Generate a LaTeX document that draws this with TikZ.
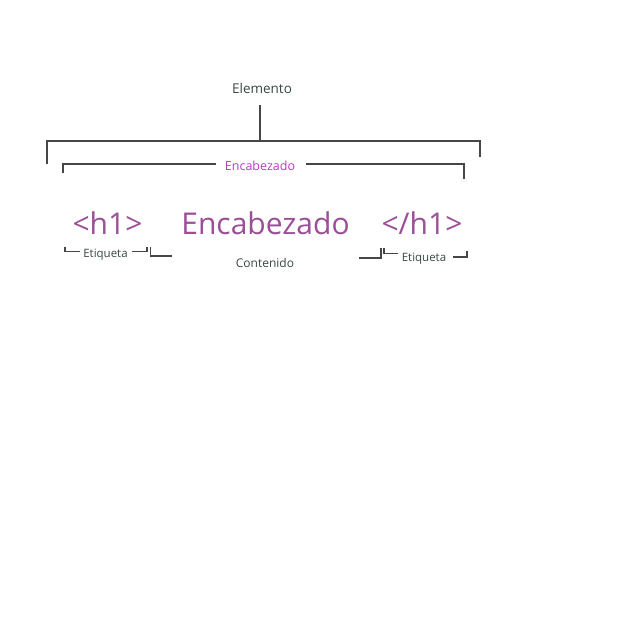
\documentclass[tikz,border=0pt]{standalone}
\usepackage{fontspec}
\setmainfont{Open Sans}
\definecolor{tagpurple}{RGB}{155,79,150}
\definecolor{headmag}{RGB}{190,58,196}
\definecolor{darktext}{RGB}{58,72,64}
\definecolor{brk}{RGB}{70,70,70}
\begin{document}
\begin{tikzpicture}[x=1pt,y=-1pt,
  brline/.style={draw=brk,line width=1.1pt},
  bigtxt/.style={text=tagpurple,font=\fontsize{30}{36}\selectfont,anchor=base,inner sep=0pt},
  smalltxt/.style={text=darktext,font=\fontsize{11.5}{14}\selectfont,anchor=base,inner sep=0pt}]
\useasboundingbox[fill=white] (0,0) rectangle (640,640);
% top label
\node[text=darktext,font=\fontsize{13.5}{16}\selectfont,anchor=base,inner sep=0pt] (elem) at (262,93.2) {Elemento};
\coordinate (stemtop) at (260,105);
\coordinate (stembot) at (260,141);
\draw[brline] (stemtop) -- (stembot);
% outer bracket
\coordinate (oL) at (47,164);
\coordinate (oR) at (480,157);
\draw[brline] (oL) -- (47,141) -- (480,141) -- (oR);
% inner bracket with label
\node[text=headmag,font=\fontsize{12.5}{15}\selectfont,anchor=base,inner sep=0pt] (head) at (260,170) {Encabezado};
\coordinate (iL) at (63,173);
\coordinate (iR) at (464,179);
\coordinate (gapL) at (216,164);
\coordinate (gapR) at (306,164);
\draw[brline] (iL) -- (63,164) -- (gapL);
\draw[brline] (gapR) -- (464,164) -- (iR);
% big texts
\node[bigtxt] (open) at (107.5,234.5) {<h1>};
\node[bigtxt] (cont) at (265.5,234.5) {Encabezado};
\node[bigtxt] (close) at (422,234.5) {</h1>};
% left Etiqueta bracket
\node[smalltxt] (etL) at (105.5,257) {Etiqueta};
\draw[brline] (65,247) -- (65,251.5) -- (80,251.5);
\draw[brline] (132,251.5) -- (147,251.5) -- (147,247);
% Contenido bracket
\node[smalltxt,font=\fontsize{12}{14}\selectfont] (contlbl) at (265,267.5) {Contenido};
\draw[brline] (150.5,247) -- (150.5,256) -- (172,256);
\draw[brline] (359,258) -- (381,258) -- (381,248);
% right Etiqueta bracket
\node[smalltxt] (etR) at (424,261.5) {Etiqueta};
\draw[brline] (384,248) -- (384,253.5) -- (398,253.5);
\draw[brline] (453,257) -- (467,257) -- (467,251);
\end{tikzpicture}
\end{document}
